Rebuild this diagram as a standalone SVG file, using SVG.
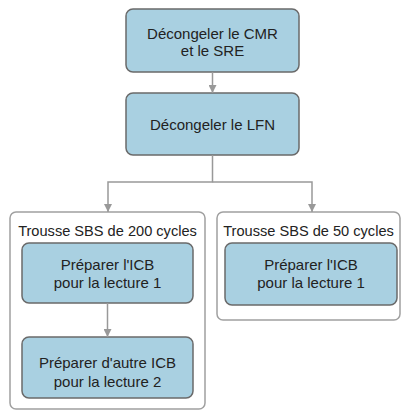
<svg xmlns="http://www.w3.org/2000/svg" width="403" height="411" viewBox="0 0 403 411">
<defs>
<marker id="ah" markerWidth="8" markerHeight="8" refX="8" refY="4" orient="auto" markerUnits="userSpaceOnUse">
<path d="M0,0 L8,4 L0,8 Z" fill="#999"/>
</marker>
<style>
.box{fill:#a9d0e1;stroke:#6a6a6a;stroke-width:1.5}
.cont{fill:#fff;stroke:#a0a0a0;stroke-width:1.5}
.t{font-family:"Liberation Sans",Arial,sans-serif;font-size:15px;fill:#222;text-anchor:middle}
.h{font-size:14.6px}
.edge{fill:none;stroke:#999;stroke-width:1.5}
</style>
</defs>
<rect width="403" height="411" fill="#fff"/>
<g id="kit200">
<rect class="cont" x="10" y="212" width="195" height="197" rx="6"/>
<text class="t h" x="107.5" y="236">Trousse SBS de 200 cycles</text>
</g>
<g id="kit50">
<rect class="cont" x="217" y="212" width="183" height="108" rx="6"/>
<text class="t h" x="308.5" y="236">Trousse SBS de 50 cycles</text>
</g>
<g id="n1">
<rect class="box" x="126" y="9" width="173" height="63" rx="7"/>
<text class="t" x="212.5" y="39">Décongeler le CMR</text>
<text class="t" x="212.5" y="56">et le SRE</text>
</g>
<g id="n2">
<rect class="box" x="126" y="93" width="173" height="62" rx="7"/>
<text class="t" x="212.5" y="130">Décongeler le LFN</text>
</g>
<g id="n3">
<rect class="box" x="22" y="243" width="171" height="60" rx="7"/>
<text class="t" x="107.5" y="270">Préparer l'ICB</text>
<text class="t" x="107.5" y="288">pour la lecture 1</text>
</g>
<g id="n4">
<rect class="box" x="22" y="337" width="171" height="61" rx="7"/>
<text class="t" x="107.5" y="368">Préparer d'autre ICB</text>
<text class="t" x="107.5" y="387">pour la lecture 2</text>
</g>
<g id="n5">
<rect class="box" x="225" y="243" width="172" height="62" rx="7"/>
<text class="t" x="311" y="270">Préparer l'ICB</text>
<text class="t" x="311" y="288">pour la lecture 1</text>
</g>
<g id="connectors">
<line class="edge" x1="212.5" y1="72" x2="212.5" y2="93" marker-end="url(#ah)"/>
<polyline class="edge" points="212.5,155 212.5,182 108,182 108,212" marker-end="url(#ah)"/>
<polyline class="edge" points="212.5,182 312,182 312,212" marker-end="url(#ah)"/>
<line class="edge" x1="107.5" y1="303" x2="107.5" y2="337" marker-end="url(#ah)"/>
</g>
</svg>
